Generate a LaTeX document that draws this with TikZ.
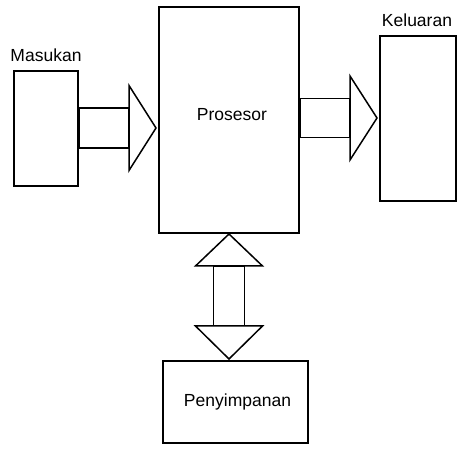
\documentclass[tikz,border=0pt]{standalone}
\usepackage{fontspec}
\setmainfont{Liberation Sans}
\usetikzlibrary{calc}
\begin{document}
\begin{tikzpicture}[x=1pt,y=1pt,
    kotak/.style={draw, line width=2pt, inner sep=0pt},
    teks/.style={font=\fontsize{17.5}{20}\selectfont, inner sep=0pt},
    panah/.style={draw, line width=1.5pt, fill=white}]
  \useasboundingbox (0,0) rectangle (474,460);
  % blocks
  \node[kotak, minimum width=64pt, minimum height=115pt] (masukan) at (46,331) {};
  \node[kotak, minimum width=140pt, minimum height=226pt] (prosesor) at (229,340) {};
  \node[kotak, minimum width=76pt, minimum height=165pt] (keluaran) at (418,341) {};
  \node[kotak, minimum width=145pt, minimum height=82pt] (penyimpanan) at (235.5,58) {};
  % texts
  \node[teks] (tmasukan) at (46,405) {Masukan};
  \node[teks] (tkeluaran) at (417,440) {Keluaran};
  \node[teks] (tprosesor) at (232,345) {Prosesor};
  \node[teks] (tpenyimpanan) at (237.5,58) {Penyimpanan};
  % input -> processor
  \coordinate (ujung1) at ($(prosesor.west |- masukan.east)+(-2,1)$);
  \draw[panah] ([yshift=21pt]masukan.east) rectangle ($(ujung1)+(-27,-20)$);
  \draw[panah] (ujung1) -- ++(-27,42.5) -- ++(0,-85) -- cycle;
  % processor -> output
  \coordinate (ujung2) at ($(keluaran.west)+(-2,1)$);
  \draw[panah] (prosesor.east |- keluaran.west) ++(0,20.5) rectangle ($(ujung2)+(-27,-19.5)$);
  \draw[panah] (ujung2) -- ++(-27,42) -- ++(0,-84) -- cycle;
  % processor <-> storage
  \coordinate (ujung3) at ($(prosesor.south |- penyimpanan.north)+(0,1)$);
  \draw[panah] ($(prosesor.south)+(-15.5,-32)$) rectangle ($(ujung3)+(15.5,33)$);
  \draw[panah] (prosesor.south) -- ++(33.5,-32) -- ++(-67,0) -- cycle;
  \draw[panah] (ujung3) -- ++(33.5,33) -- ++(-67,0) -- cycle;
\end{tikzpicture}
\end{document}
